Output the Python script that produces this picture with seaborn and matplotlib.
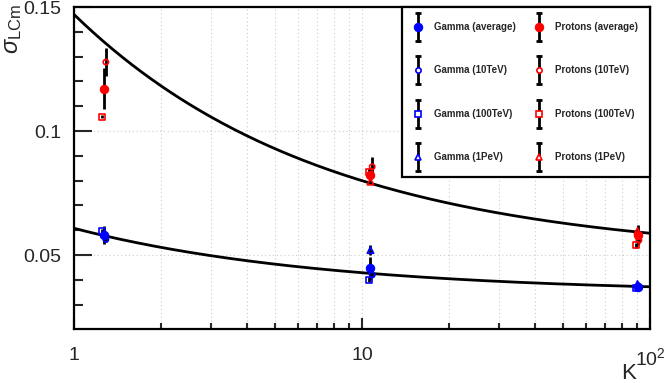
import numpy as np
import pandas as pd
import matplotlib
matplotlib.use("Agg")
import matplotlib.pyplot as plt
import seaborn as sns
from matplotlib.lines import Line2D
from matplotlib.legend_handler import HandlerBase
from matplotlib.ticker import MultipleLocator

# ---------------- data ----------------
K_avg = [1.27, 10.7, 90.5]
K_10TeV = [1.29, 10.85, 91.5]
K_100TeV = [1.255, 10.6, 89.5]
K_1PeV = [1.27, 10.7, 90.5]

gamma_avg = [0.0580, 0.0446, 0.0372]
gamma_avg_err = [0.0037, 0.0045, 0.0015]
gamma_10TeV = [0.0563, 0.0420, 0.0372]
gamma_10TeV_err = [0.0010, 0.0010, 0.0008]
gamma_100TeV = [0.0598, 0.0400, 0.0367]
gamma_100TeV_err = [0.0008, 0.0010, 0.0008]
gamma_1PeV = [0.0585, 0.0520, 0.0383]
gamma_1PeV_err = [0.0008, 0.0020, 0.0010]

protons_avg = [0.1170, 0.0823, 0.0581]
protons_avg_err = [0.0083, 0.0030, 0.0040]
protons_10TeV = [0.1278, 0.0856, 0.0560]
protons_10TeV_err = [0.0057, 0.0040, 0.0010]
protons_100TeV = [0.1058, 0.0835, 0.0540]
protons_100TeV_err = [0.0005, 0.0010, 0.0010]
protons_1PeV = [np.nan, 0.0796, 0.0597]
protons_1PeV_err = [np.nan, 0.0010, 0.0010]

# fit functions  sigma = a + b / K**c
fit_protons = (0.049, 0.098, 0.5)
fit_gamma = (0.0346, 0.0262, 0.5)

y_ticks = [0.05, 0.1, 0.15]
y_ticklabels = ["0.05", "0.1", "0.15"]
x_ticks = [1, 10, 100]
x_ticklabels = ["1", "10", r"$10^{2}$"]

# ---------------- style ----------------
sns.set_style("white")
plt.rcParams["font.family"] = ["Liberation Sans", "DejaVu Sans"]
plt.rcParams["mathtext.fontset"] = "custom"
plt.rcParams["mathtext.rm"] = "Liberation Sans"
plt.rcParams["mathtext.it"] = "Liberation Sans:italic"

fig = plt.figure(figsize=(6.64, 3.83), dpi=100)
ax = fig.add_axes([74 / 664, 1 - 329 / 383, 576 / 664, 322 / 383])

# fit curves
for (a, b, c) in (fit_protons, fit_gamma):
    kk = np.logspace(0, 2, 300)
    sns.lineplot(x=kk, y=a + b / kk ** c, color="black", lw=2, ax=ax, zorder=2)

series = [
    ("Gamma (average)", K_avg, gamma_avg, gamma_avg_err, "o", "#0000ff", True, 6.0),
    ("Gamma (10TeV)", K_10TeV, gamma_10TeV, gamma_10TeV_err, "o", "#0000ff", False, 3.8),
    ("Gamma (100TeV)", K_100TeV, gamma_100TeV, gamma_100TeV_err, "s", "#0000ff", False, 4.2),
    ("Gamma (1PeV)", K_1PeV, gamma_1PeV, gamma_1PeV_err, "^", "#0000ff", False, 4.6),
    ("Protons (average)", K_avg, protons_avg, protons_avg_err, "o", "#ff0000", True, 6.0),
    ("Protons (10TeV)", K_10TeV, protons_10TeV, protons_10TeV_err, "o", "#ff0000", False, 3.8),
    ("Protons (100TeV)", K_100TeV, protons_100TeV, protons_100TeV_err, "s", "#ff0000", False, 4.2),
    ("Protons (1PeV)", K_1PeV, protons_1PeV, protons_1PeV_err, "^", "#ff0000", False, 4.6),
]

handles = []
for name, kx, yv, ye, mk, col, filled, ms in series:
    ax.errorbar(kx, yv, yerr=ye, fmt="none", ecolor="black", elinewidth=2, capsize=0, zorder=3)
    df = pd.DataFrame({"K": kx, "sigma": yv})
    if filled:
        sns.scatterplot(data=df, x="K", y="sigma", marker=mk, s=ms ** 2, color=col,
                        edgecolor=col, linewidth=0.8, ax=ax, zorder=4)
    else:
        sns.scatterplot(data=df, x="K", y="sigma", marker=mk, s=ms ** 2, facecolor="none",
                        edgecolor=col, linewidth=1.2, ax=ax, zorder=4)
    handles.append(Line2D([], [], ls="none", marker=mk, ms=ms, color=col,
                          mfc=col if filled else "white", mec=col,
                          mew=0.8 if filled else 1.2, label=name))

ax.set_xscale("log")
ax.set_xlim(1, 100)
ax.set_ylim(0.0202, 0.15)
ax.set_xticks(x_ticks)
ax.set_xticklabels(x_ticklabels)
ax.set_yticks(y_ticks)
ax.set_yticklabels(y_ticklabels)
ax.yaxis.set_minor_locator(MultipleLocator(0.01))
ax.xaxis.set_minor_formatter(matplotlib.ticker.NullFormatter())

ax.tick_params(axis="y", which="major", direction="in", length=13, width=1.5, labelsize=14, pad=9, left=True)
ax.tick_params(axis="y", which="minor", direction="in", length=6.5, width=1.5, left=True)
ax.tick_params(axis="x", which="major", direction="in", length=8, width=1.5, labelsize=14, pad=13, bottom=True)
ax.tick_params(axis="x", which="minor", direction="in", length=4, width=1.5, bottom=True)

ax.grid(True, which="both", axis="x", ls=(0, (1, 2.5)), color="#cccccc", lw=0.8)
ax.grid(True, which="major", axis="y", ls=(0, (1, 2.5)), color="#cccccc", lw=0.8)
ax.set_axisbelow(True)

for sp in ax.spines.values():
    sp.set_visible(True)
    sp.set_color("black")
    sp.set_linewidth(1.6)

ax.set_xlabel("K", fontsize=16, loc="right")
ax.xaxis.label.set_verticalalignment("baseline")
ax.xaxis.set_label_coords((636 - 74) / 576, -(379 - 329) / 322)
ax.set_ylabel(r"$\sigma_{\mathrm{LCm}}$", fontsize=17, loc="top")
ax.yaxis.set_label_coords(-0.086, 1.008)


class ErrHandler(HandlerBase):
    def create_artists(self, legend, orig, xdescent, ydescent, width, height, fontsize, trans):
        cx = -xdescent + width / 2
        cy = -ydescent + height / 2
        half = 10.0
        bar = Line2D([cx, cx], [cy - half, cy + half], color="black", lw=2)
        caps = Line2D([cx, cx], [cy - half, cy + half], ls="none", marker="_", ms=5,
                      mew=2, color="black")
        mk = Line2D([cx], [cy], ls="none", marker=orig.get_marker(), ms=orig.get_markersize(),
                    mfc=orig.get_markerfacecolor(), mec=orig.get_markeredgecolor(),
                    mew=orig.get_markeredgewidth())
        for art in (bar, caps, mk):
            art.set_transform(trans)
        return [bar, caps, mk]


leg = ax.legend(handles=handles, ncol=2, loc="upper right", bbox_to_anchor=(1.0, 1.0),
                borderaxespad=0, fancybox=False, framealpha=1, edgecolor="black",
                prop={"weight": "bold", "size": 7}, handler_map={Line2D: ErrHandler()},
                handlelength=1.0, handleheight=2.2, handletextpad=1.15, columnspacing=1.9,
                labelspacing=2.8, borderpad=1.2)
leg.get_frame().set_linewidth(1.6)
leg.set_zorder(10)

fig.savefig("out.png", dpi=100)
